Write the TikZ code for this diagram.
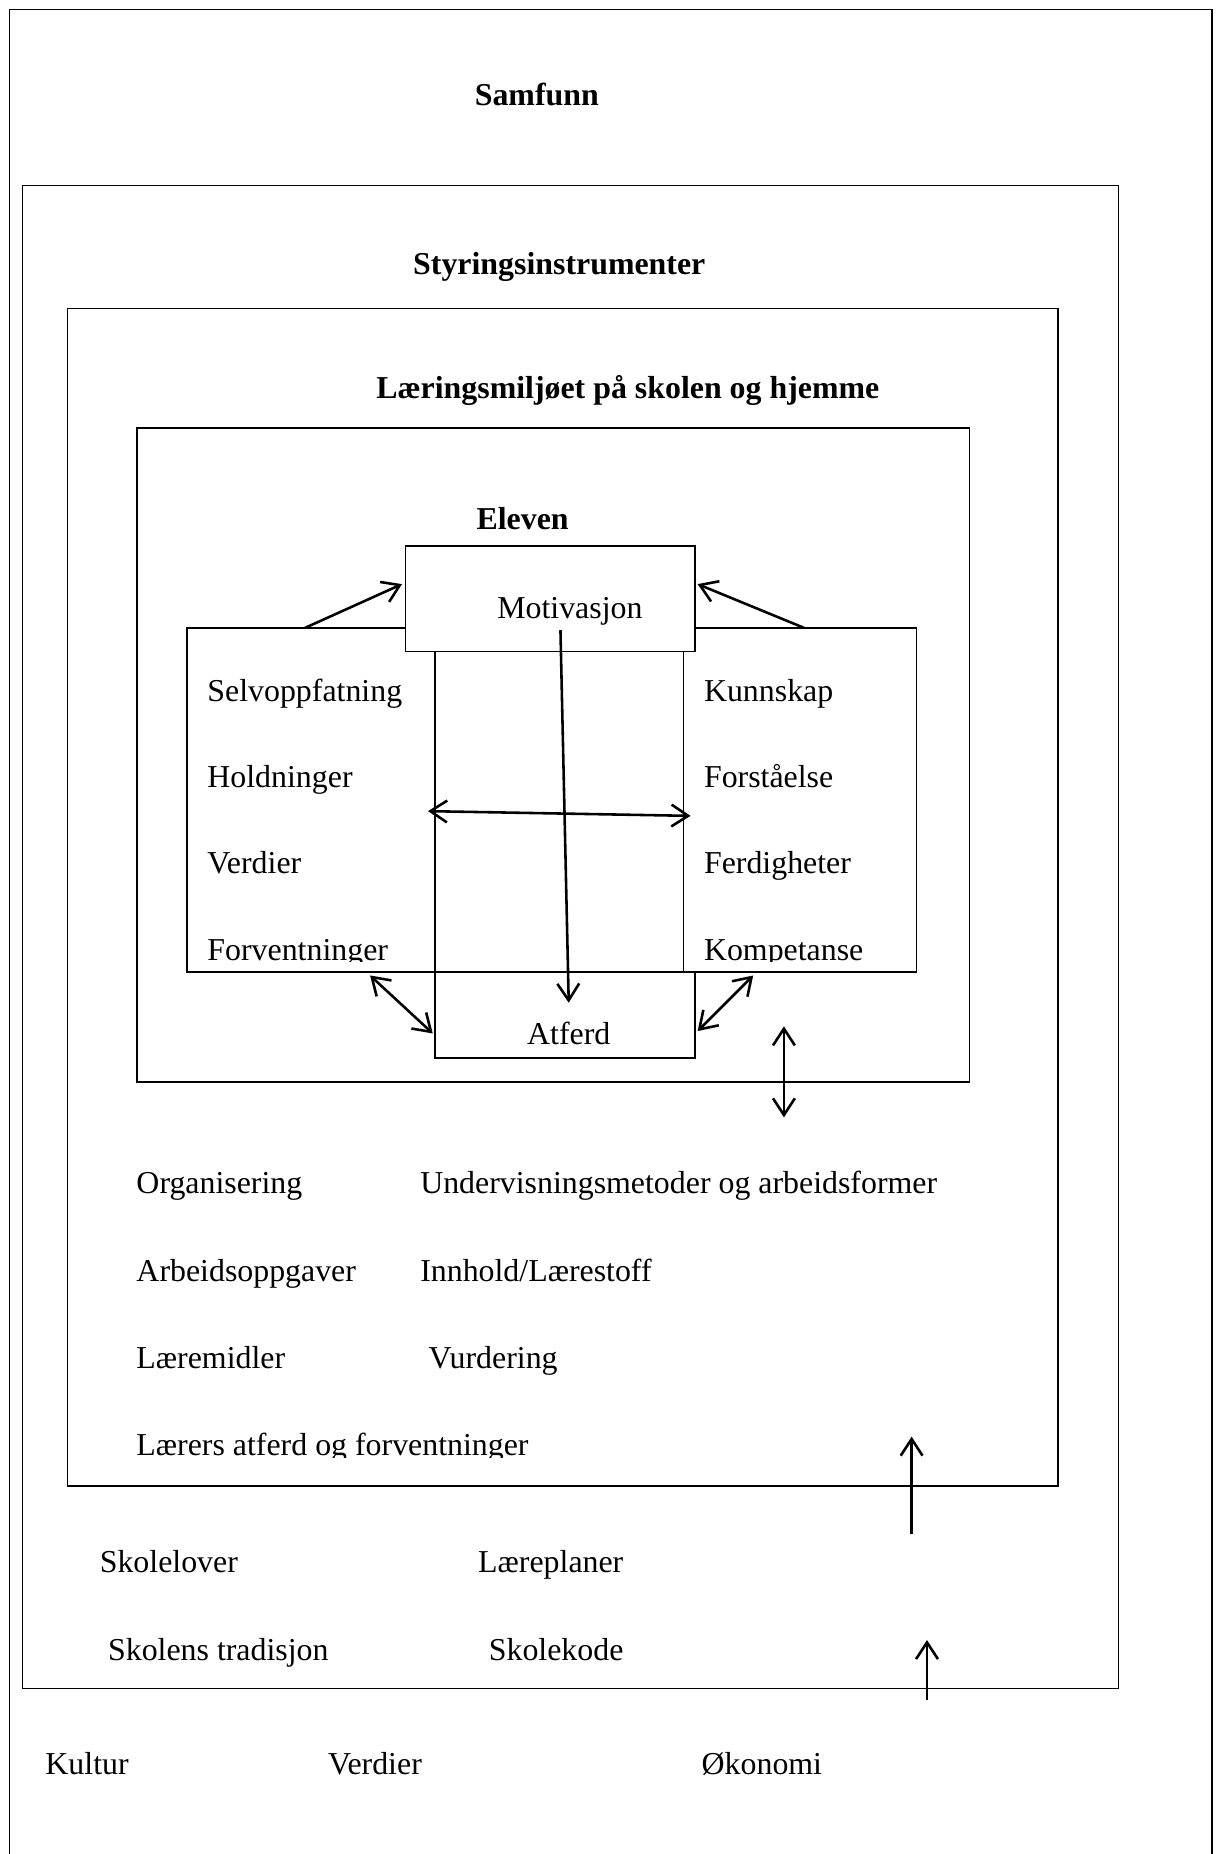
\documentclass[tikz,border=0pt]{standalone}
\usepackage{fontspec}
\setmainfont{Liberation Serif}
\usetikzlibrary{arrows.meta,fit}
\tikzset{>={Straight Barb[length=6.5pt,width=8.5pt]}}

\begin{document}
\begin{tikzpicture}[x=0.46pt,y=-0.46pt,
  frame/.style={draw, line width=0.65pt, inner sep=0pt},
  item/.style={anchor=base west, inner sep=0pt, font=\fontsize{12.4}{14}\selectfont},
  head/.style={anchor=base, inner sep=0pt, font=\fontsize{12.4}{14}\selectfont\bfseries},
  link/.style={line width=1pt}]

  \useasboundingbox (0,0) rectangle (1033,1568);
  \clip (0,0) rectangle (1033,1568);

  % nested frames
  \node[frame, fit={(8,8) (1025,1600)}] (samfunnbox) {};
  \node[frame, fit={(19,157) (946,1428)}] (styringbox) {};
  \node[frame, fit={(57,261) (895,1257)}] (miljobox) {};
  \node[frame, fit={(116,362) (820,915)}] (elevbox) {};

  % the pupil
  \node[frame, fit={(158,531) (368,822)}] (selvbox) {};
  \node[frame, fit={(578,531) (775,822)}] (kunnbox) {};
  \node[frame, fill=white, fit={(343,462) (588,551)}] (motivbox) {};
  \node[frame, fill=white, fit={(368,822) (588,895)}] (atferdbox) {};

  \node[head] (samfunn) at (454,89) {Samfunn};
  \node[head] (styring) at (473,232) {Styringsinstrumenter};
  \node[head] (miljo) at (531,337) {Læringsmiljøet på skolen og hjemme};
  \node[head] (eleven) at (442,448) {Eleven};

  \node[item, anchor=base] (motiv) at (482,523) {Motivasjon};
  \node[item, anchor=base] (atferd) at (481,883) {Atferd};

  \begin{scope}
    \clip (150,540) rectangle (790,813);
    \node[item] (selv) at (175,593) {Selvoppfatning};
    \node[item] (hold) at (175,666) {Holdninger};
    \node[item] (verdi) at (175,739) {Verdier};
    \node[item] (forv) at (175,812) {Forventninger};
    \node[item] (kunn) at (595,593) {Kunnskap};
    \node[item] (forst) at (595,666) {Forståelse};
    \node[item] (ferd) at (595,739) {Ferdigheter};
    \node[item] (komp) at (595,812) {Kompetanse};
  \end{scope}

  % learning environment
  \node[item] (org) at (115,1009) {Organisering};
  \node[item] (underv) at (355,1009) {Undervisningsmetoder og arbeidsformer};
  \node[item] (arbeid) at (115,1084) {Arbeidsoppgaver};
  \node[item] (innhold) at (355,1084) {Innhold/Lærestoff};
  \node[item] (midler) at (115,1157) {Læremidler};
  \node[item] (vurd) at (362,1157) {Vurdering};
  \begin{scope}
    \clip (100,1190) rectangle (700,1233);
    \node[item] (laerer) at (115,1231) {Lærers atferd og forventninger};
  \end{scope}

  % steering
  \node[item] (lover) at (84,1330) {Skolelover};
  \node[item] (planer) at (404,1330) {Læreplaner};
  \node[item] (trad) at (91,1404) {Skolens tradisjon};
  \node[item] (kode) at (413,1404) {Skolekode};

  % society
  \node[item] (kultur) at (38,1501) {Kultur};
  \node[item] (verdier) at (277,1501) {Verdier};
  \node[item] (okonomi) at (593,1501) {Økonomi};

  % arrow ends
  \coordinate (selvtop) at (258,531);
  \coordinate (motivw) at (340,494);
  \coordinate (kunntop) at (680,531);
  \coordinate (motive) at (590,494);
  \coordinate (motivs) at (474,533);
  \coordinate (atferdn) at (481,848);
  \coordinate (selve) at (362,686);
  \coordinate (kunnw) at (584,690);
  \coordinate (selvs) at (313,825);
  \coordinate (atferdw) at (366,874);
  \coordinate (kunns) at (637,825);
  \coordinate (atferde) at (590,872);
  \coordinate (elevs) at (663,868);
  \coordinate (miljoin) at (663,945);
  \coordinate (styrup) at (771,1215);
  \coordinate (styrlow) at (771,1297);
  \coordinate (samup) at (784,1387);
  \coordinate (samlow) at (784,1438);

  \draw[link, ->] (selvtop) -- (motivw);
  \draw[link, ->] (kunntop) -- (motive);
  \draw[link, ->] (motivs) -- (atferdn);
  \draw[link, <->] (selve) -- (kunnw);
  \draw[link, <->] (selvs) -- (atferdw);
  \draw[link, <->] (kunns) -- (atferde);
  \draw[link, <->] (elevs) -- (miljoin);
  \draw[link, ->] (styrlow) -- (styrup);
  \draw[link, ->] (samlow) -- (samup);

\end{tikzpicture}
\end{document}
